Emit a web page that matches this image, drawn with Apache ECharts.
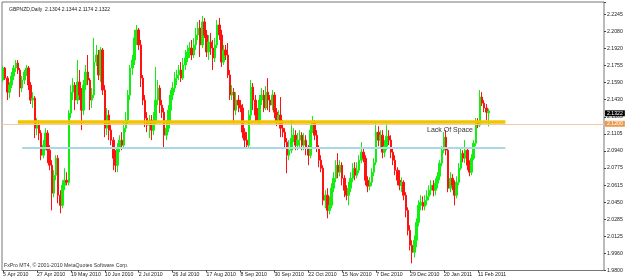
<!DOCTYPE html>
<html>
<head>
<meta charset="utf-8">
<script src="https://cdn.jsdelivr.net/npm/echarts@6/dist/echarts.min.js"></script>
<style>
  html, body { margin: 0; padding: 0; background: #fff; }
  #chart { width: 625px; height: 280px; }
</style>
</head>
<body>
<div id="chart"></div>
<script>
// GBPNZD daily, 5 Apr 2010 .. 18 Feb 2011, one row per bar: [open, close, low, high]
const candles = [
  [2.1617,2.1732,2.1598,2.1751],[2.1732,2.1636,2.1617,2.1742],[2.1636,2.1502,2.1426,2.1655],[2.1502,2.1569,2.1445,2.1598],
  [2.1569,2.1655,2.1541,2.1694],[2.1655,2.1732,2.1617,2.1761],[2.1732,2.1780,2.1694,2.1808],[2.1780,2.1713,2.1675,2.1808],
  [2.1713,2.1541,2.1455,2.1732],[2.1541,2.1617,2.1502,2.1655],[2.1617,2.1694,2.1579,2.1713],[2.1694,2.1732,2.1655,2.1761],
  [2.1732,2.1569,2.1522,2.1751],[2.1569,2.1426,2.1388,2.1598],[2.1426,2.1445,2.1350,2.1502],[2.1445,2.1158,2.1063,2.1464],
  [2.1158,2.1187,2.1091,2.1254],[2.1187,2.1111,2.1044,2.1235],[2.1111,2.0900,2.0852,2.1139],[2.0900,2.0996,2.0871,2.1044],
  [2.0996,2.1111,2.0948,2.1158],[2.1111,2.0948,2.0824,2.1139],[2.0948,2.0805,2.0757,2.0996],[2.0805,2.0537,2.0374,2.0852],
  [2.0537,2.0709,2.0499,2.0757],[2.0709,2.0871,2.0661,2.0900],[2.0871,2.0518,2.0441,2.0900],[2.0518,2.0422,2.0346,2.0566],
  [2.0422,2.0613,2.0394,2.0661],[2.0613,2.0661,2.0566,2.0776],[2.0661,2.0642,2.0613,2.0738],[2.0642,2.1302,2.0613,2.1330],
  [2.1302,2.1502,2.1254,2.1569],[2.1502,2.1569,2.1426,2.1636],[2.1569,2.1426,2.1330,2.1598],[2.1426,2.1598,2.1388,2.1808],
  [2.1598,2.1474,2.1426,2.1713],[2.1474,2.1330,2.1139,2.1541],[2.1330,2.1569,2.1283,2.1617],[2.1569,2.1694,2.1522,2.1761],
  [2.1694,2.1617,2.1569,2.1856],[2.1617,2.1426,2.1330,2.1636],[2.1426,2.1474,2.1350,2.1541],[2.1474,2.1789,2.1445,2.2019],
  [2.1789,2.1856,2.1751,2.1952],[2.1856,2.1665,2.1617,2.1904],[2.1665,2.1904,2.1598,2.1933],[2.1904,2.1522,2.1474,2.1923],
  [2.1522,2.1158,2.1072,2.1569],[2.1158,2.1283,2.1091,2.1350],[2.1283,2.1139,2.1044,2.1330],[2.1139,2.1044,2.0996,2.1187],
  [2.1044,2.0871,2.0757,2.1072],[2.0871,2.0805,2.0738,2.0948],[2.0805,2.0967,2.0738,2.1015],[2.0967,2.1044,2.0929,2.1091],
  [2.1044,2.0996,2.0948,2.1120],[2.0996,2.1158,2.0967,2.1216],[2.1158,2.1235,2.1120,2.1311],[2.1235,2.1474,2.1197,2.1522],
  [2.1474,2.1732,2.1426,2.1761],[2.1732,2.1808,2.1665,2.1856],[2.1808,2.2019,2.1761,2.2095],[2.2019,2.2095,2.1952,2.2143],
  [2.2095,2.1952,2.1904,2.2114],[2.1952,2.1636,2.1550,2.2000],[2.1636,2.1426,2.1378,2.1665],[2.1426,2.1254,2.1168,2.1474],
  [2.1254,2.1187,2.1120,2.1311],[2.1187,2.1235,2.1063,2.1283],[2.1235,2.1139,2.1044,2.1283],[2.1139,2.1216,2.1091,2.1311],
  [2.1216,2.1426,2.1187,2.1742],[2.1426,2.1541,2.1378,2.1617],[2.1541,2.1378,2.1302,2.1569],[2.1378,2.1311,2.1254,2.1426],
  [2.1311,2.1091,2.0977,2.1350],[2.1091,2.1158,2.1044,2.1235],[2.1158,2.1330,2.1120,2.1378],[2.1330,2.1474,2.1216,2.1522],
  [2.1474,2.1541,2.1426,2.1598],[2.1541,2.1636,2.1502,2.1694],[2.1636,2.1665,2.1569,2.1713],[2.1665,2.1713,2.1617,2.1761],
  [2.1713,2.1636,2.1598,2.1789],[2.1636,2.1761,2.1617,2.1828],[2.1761,2.1828,2.1713,2.1904],[2.1828,2.1885,2.1789,2.1952],
  [2.1885,2.1923,2.1828,2.1980],[2.1923,2.1856,2.1808,2.2000],[2.1856,2.1952,2.1828,2.2019],[2.1952,2.2047,2.1904,2.2114],
  [2.2047,2.2114,2.2000,2.2172],[2.2114,2.1952,2.1837,2.2191],[2.1952,2.2172,2.1923,2.2229],[2.2172,2.2047,2.2019,2.2210],
  [2.2047,2.1885,2.1837,2.2095],[2.1885,2.1980,2.1808,2.2047],[2.1980,2.1923,2.1856,2.2067],[2.1923,2.1828,2.1713,2.2000],
  [2.1828,2.1952,2.1789,2.2019],[2.1952,2.2143,2.1923,2.2191],[2.2143,2.2047,2.2000,2.2210],[2.2047,2.1789,2.1742,2.2095],
  [2.1789,2.1904,2.1761,2.1952],[2.1904,2.1856,2.1808,2.1952],[2.1856,2.1665,2.1636,2.1971],[2.1665,2.1474,2.1426,2.1713],
  [2.1474,2.1502,2.1426,2.1569],[2.1502,2.1330,2.1206,2.1541],[2.1330,2.1426,2.1283,2.1502],[2.1426,2.1378,2.1311,2.1474],
  [2.1378,2.1350,2.1311,2.1426],[2.1350,2.1120,2.1063,2.1388],[2.1120,2.1044,2.0977,2.1158],[2.1044,2.0996,2.0977,2.1120],
  [2.0996,2.1283,2.0967,2.1330],[2.1283,2.1550,2.1235,2.1617],[2.1550,2.1426,2.1330,2.1589],[2.1426,2.1283,2.1216,2.1474],
  [2.1283,2.1235,2.1206,2.1350],[2.1235,2.1426,2.1187,2.1474],[2.1426,2.1474,2.1378,2.1541],[2.1474,2.1350,2.1311,2.1522],
  [2.1350,2.1502,2.1330,2.1560],[2.1502,2.1426,2.1330,2.1636],[2.1426,2.1378,2.1311,2.1474],[2.1378,2.1474,2.1330,2.1522],
  [2.1474,2.1311,2.1254,2.1502],[2.1311,2.1216,2.1177,2.1350],[2.1216,2.1283,2.1187,2.1330],[2.1283,2.1158,2.1072,2.1455],
  [2.1158,2.1120,2.1072,2.1235],[2.1120,2.1025,2.0967,2.1158],[2.1025,2.0900,2.0728,2.1063],[2.0900,2.0948,2.0852,2.1044],
  [2.0948,2.1063,2.0919,2.1235],[2.1063,2.1091,2.1025,2.1158],[2.1091,2.0996,2.0948,2.1139],[2.0996,2.1044,2.0948,2.1111],
  [2.1044,2.1091,2.0967,2.1139],[2.1091,2.0996,2.0948,2.1120],[2.0996,2.1044,2.0948,2.1111],[2.1044,2.0967,2.0900,2.1091],
  [2.0967,2.0900,2.0805,2.0996],[2.0900,2.1139,2.0871,2.1187],[2.1139,2.1206,2.1111,2.1273],[2.1206,2.1091,2.1044,2.1235],
  [2.1091,2.0967,2.0929,2.1139],[2.0967,2.0852,2.0785,2.0996],[2.0852,2.0776,2.0738,2.0900],[2.0776,2.0470,2.0422,2.0805],
  [2.0470,2.0518,2.0394,2.0566],[2.0518,2.0374,2.0298,2.0585],[2.0374,2.0422,2.0336,2.0508],[2.0422,2.0585,2.0394,2.0633],
  [2.0585,2.0680,2.0547,2.0738],[2.0680,2.0805,2.0642,2.0852],[2.0805,2.0738,2.0680,2.0919],[2.0738,2.0805,2.0699,2.0852],
  [2.0805,2.0680,2.0613,2.0833],[2.0680,2.0566,2.0499,2.0709],[2.0566,2.0518,2.0470,2.0613],[2.0518,2.0585,2.0422,2.0642],
  [2.0585,2.0680,2.0547,2.0738],[2.0680,2.0776,2.0642,2.0824],[2.0776,2.0709,2.0661,2.0833],[2.0709,2.0757,2.0680,2.0833],
  [2.0757,2.0852,2.0728,2.0900],[2.0852,2.0929,2.0824,2.1025],[2.0929,2.0871,2.0833,2.0967],[2.0871,2.0661,2.0613,2.0900],
  [2.0661,2.0604,2.0547,2.0699],[2.0604,2.0642,2.0566,2.0690],[2.0642,2.0738,2.0604,2.0776],[2.0738,2.0833,2.0699,2.0871],
  [2.0833,2.1120,2.0805,2.1216],[2.1120,2.1044,2.0986,2.1177],[2.1044,2.1091,2.0967,2.1139],[2.1091,2.0929,2.0871,2.1139],
  [2.0929,2.0986,2.0881,2.1044],[2.0986,2.1082,2.0948,2.1206],[2.1082,2.1044,2.0996,2.1139],[2.1044,2.0929,2.0871,2.1091],
  [2.0929,2.0852,2.0805,2.0967],[2.0852,2.0757,2.0709,2.0900],[2.0757,2.0661,2.0613,2.0785],[2.0661,2.0613,2.0566,2.0757],
  [2.0613,2.0642,2.0547,2.0690],[2.0642,2.0518,2.0470,2.0661],[2.0518,2.0374,2.0307,2.0547],[2.0374,2.0183,2.0135,2.0403],
  [2.0183,2.0040,1.9992,2.0231],[2.0040,1.9973,1.9868,2.0088],[1.9973,2.0088,1.9925,2.0135],[2.0088,2.0260,2.0021,2.0298],
  [2.0260,2.0422,2.0221,2.0470],[2.0422,2.0451,2.0374,2.0518],[2.0451,2.0413,2.0374,2.0508],[2.0413,2.0470,2.0374,2.0518],
  [2.0470,2.0508,2.0422,2.0566],[2.0508,2.0566,2.0470,2.0613],[2.0566,2.0613,2.0518,2.0661],[2.0613,2.0566,2.0508,2.0661],
  [2.0566,2.0633,2.0518,2.0680],[2.0633,2.0699,2.0585,2.0738],[2.0699,2.0824,2.0661,2.0852],[2.0824,2.0948,2.0795,2.0986],
  [2.0948,2.1072,2.0919,2.1120],[2.1072,2.0948,2.0900,2.1139],[2.0948,2.0585,2.0547,2.0977],[2.0585,2.0680,2.0547,2.0738],
  [2.0680,2.0613,2.0566,2.0719],[2.0613,2.0518,2.0422,2.0661],[2.0518,2.0642,2.0489,2.0699],[2.0642,2.0776,2.0613,2.0824],
  [2.0776,2.0919,2.0757,2.0967],[2.0919,2.0871,2.0833,2.0948],[2.0871,2.0948,2.0824,2.1044],[2.0948,2.0805,2.0757,2.0977],
  [2.0805,2.0738,2.0699,2.0852],[2.0738,2.0871,2.0709,2.0910],[2.0871,2.1015,2.0852,2.1044],[2.1015,2.1216,2.0986,2.1254],
  [2.1216,2.1187,2.1158,2.1254],[2.1187,2.1455,2.1168,2.1522],[2.1455,2.1397,2.1369,2.1502],[2.1397,2.1350,2.1311,2.1426],
  [2.1350,2.1311,2.1235,2.1388],[2.1304,2.1322,2.1174,2.1344]
]

// date labels, one every 16 bars
const dateLabels = ['5 Apr 2010', '27 Apr 2010', '19 May 2010', '10 Jun 2010', '2 Jul 2010', '26 Jul 2010',
  '17 Aug 2010', '8 Sep 2010', '30 Sep 2010', '22 Oct 2010', '15 Nov 2010', '7 Dec 2010', '29 Dec 2010',
  '20 Jan 2011', '11 Feb 2011']
const dateStep = 16

// price scale labels as MT4 prints them
const priceLabels = ['1.9800', '1.9960', '2.0125', '2.0285', '2.0450', '2.0615', '2.0775', '2.0940',
  '2.1105', '2.1265', '2.1430', '2.1590', '2.1755', '2.1920', '2.2080', '2.2245']
const priceMin = 1.98
const priceStep = 0.0163
const priceMax = 2.2362

// bar slots incl. empty chart shift on the right
const slotCount = 284

// drawn objects
const yellowLevel = 2.1216
const yellowSpan = [7, 237]
const blueLevel = 2.0969
const blueSpan = [9, 237]
const hLine = 2.1200
const lastBid = 2.1322
const note = { text: 'Lack Of Space', bar: 200, price: 2.1137 }

const title = 'GBPNZD,Daily  2.1304 2.1344 2.1174 2.1322'
const footer = 'FxPro MT4, \u00a9 2001-2010 MetaQuotes Software Corp.'

const slots = []
for (let i = 0; i < slotCount; i++) slots.push(i)

const font = 'Liberation Sans'
const tiny = 5.2

const chart = echarts.init(document.getElementById('chart'), null, { renderer: 'canvas' })

const option = {
  animation: false,
  backgroundColor: '#fff',
  textStyle: { fontFamily: font },
  title: {
    text: title,
    left: 4, top: 2,
    textStyle: { fontSize: 5, fontWeight: 'normal', color: '#222', fontFamily: font }
  },
  graphic: [{
    type: 'text', left: 4, top: 263,
    style: { text: footer, fontSize: tiny, fill: '#333', fontFamily: font }
  }],
  grid: {
    left: 2, right: 21, top: 2, bottom: 9.5,
    show: true, borderColor: '#777', borderWidth: 1,
    outerBoundsMode: 'none'
  },
  xAxis: {
    type: 'category',
    data: slots,
    boundaryGap: true,
    axisLine: { show: false },
    axisTick: {
      show: true, alignWithLabel: true, length: 2,
      interval: (i) => i % dateStep === 0 && i / dateStep < dateLabels.length,
      lineStyle: { color: '#444' }
    },
    axisLabel: {
      interval: (i) => i % dateStep === 0 && i / dateStep < dateLabels.length,
      formatter: (v, i) => dateLabels[i / dateStep] || '',
      align: 'left', margin: 2,
      fontSize: tiny, color: '#222', fontFamily: font
    },
    splitLine: { show: false }
  },
  yAxis: {
    type: 'value',
    position: 'right',
    min: priceMin, max: priceMax, interval: priceStep,
    axisLine: { show: false },
    axisTick: { show: true, length: 2, lineStyle: { color: '#444' } },
    axisLabel: {
      margin: 3, fontSize: tiny, color: '#222', fontFamily: font,
      formatter: (v) => {
        const k = Math.round((v - priceMin) / priceStep)
        if (Math.abs(v - (priceMin + k * priceStep)) > 1e-6) return ''
        return priceLabels[k] || ''
      }
    },
    splitLine: { show: false }
  },
  series: [{
    type: 'candlestick',
    data: candles,
    barWidth: 2,
    itemStyle: {
      color: '#11ee11', color0: '#ff1111',
      borderColor: '#11ee11', borderColor0: '#ff1111',
      borderWidth: 1
    },
    markLine: {
      silent: true,
      symbol: ['none', 'none'],
      animation: false,
      label: { show: false },
      data: [
        {
          yAxis: hLine,
          lineStyle: { color: '#f5c8a4', width: 1, type: 'solid' },
          label: {
            show: true, position: 'end', distance: 1,
            formatter: hLine.toFixed(4),
            backgroundColor: '#e89b50', color: '#fff',
            padding: [1, 2, 0, 2], fontSize: tiny, fontFamily: font
          }
        },
        [
          { coord: [yellowSpan[0], yellowLevel], lineStyle: { color: '#f2c400', width: 3.5, type: 'solid' } },
          { coord: [yellowSpan[1], yellowLevel] }
        ],
        [
          { coord: [blueSpan[0], blueLevel], lineStyle: { color: '#a9d9e6', width: 2, type: 'solid' } },
          { coord: [blueSpan[1], blueLevel] }
        ],
        {
          yAxis: lastBid,
          lineStyle: { color: 'rgba(0,0,0,0)', width: 1 },
          label: {
            show: true, position: 'end', distance: 1,
            formatter: lastBid.toFixed(4),
            backgroundColor: '#000', color: '#fff',
            padding: [1, 2, 0, 2], fontSize: tiny, fontFamily: font
          }
        }
      ]
    },
    markPoint: {
      silent: true,
      symbol: 'circle', symbolSize: 0,
      data: [{
        coord: [note.bar, note.price],
        label: {
          show: true, position: 'right', distance: 0,
          formatter: note.text,
          fontSize: 7, color: '#333', fontFamily: font
        }
      }]
    }
  }]
}

chart.setOption(option)
</script>
</body>
</html>
